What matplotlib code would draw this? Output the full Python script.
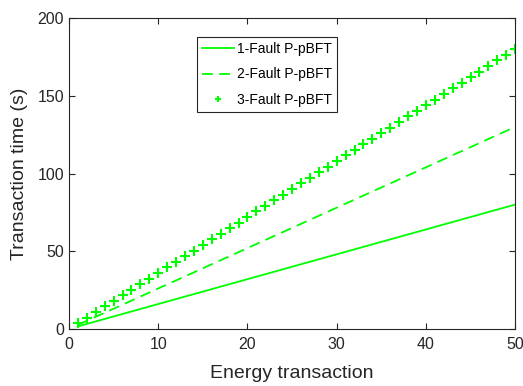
import matplotlib
matplotlib.use("Agg")
import matplotlib.pyplot as plt

plt.rcParams['font.family'] = ['Liberation Sans', 'DejaVu Sans']

x = [1, 2, 3, 4, 5, 6, 7, 8, 9, 10, 11, 12, 13, 14, 15, 16, 17, 18, 19, 20,
     21, 22, 23, 24, 25, 26, 27, 28, 29, 30, 31, 32, 33, 34, 35, 36, 37, 38, 39, 40,
     41, 42, 43, 44, 45, 46, 47, 48, 49, 50]
fault1 = [1.6, 3.2, 4.8, 6.4, 8.0, 9.6, 11.2, 12.8, 14.4, 16.0, 17.6, 19.2, 20.8, 22.4, 24.0,
          25.6, 27.2, 28.8, 30.4, 32.0, 33.6, 35.2, 36.8, 38.4, 40.0, 41.6, 43.2, 44.8, 46.4, 48.0,
          49.6, 51.2, 52.8, 54.4, 56.0, 57.6, 59.2, 60.8, 62.4, 64.0, 65.6, 67.2, 68.8, 70.4, 72.0,
          73.6, 75.2, 76.8, 78.4, 80.0]
fault2 = [2.6, 5.2, 7.8, 10.4, 13.0, 15.6, 18.2, 20.8, 23.4, 26.0, 28.6, 31.2, 33.8, 36.4, 39.0,
          41.6, 44.2, 46.8, 49.4, 52.0, 54.6, 57.2, 59.8, 62.4, 65.0, 67.6, 70.2, 72.8, 75.4, 78.0,
          80.6, 83.2, 85.8, 88.4, 91.0, 93.6, 96.2, 98.8, 101.4, 104.0, 106.6, 109.2, 111.8, 114.4, 117.0,
          119.6, 122.2, 124.8, 127.4, 130.0]
fault3 = [3.6, 7.2, 10.8, 14.4, 18.0, 21.6, 25.2, 28.8, 32.4, 36.0, 39.6, 43.2, 46.8, 50.4, 54.0,
          57.6, 61.2, 64.8, 68.4, 72.0, 75.6, 79.2, 82.8, 86.4, 90.0, 93.6, 97.2, 100.8, 104.4, 108.0,
          111.6, 115.2, 118.8, 122.4, 126.0, 129.6, 133.2, 136.8, 140.4, 144.0, 147.6, 151.2, 154.8, 158.4, 162.0,
          165.6, 169.2, 172.8, 176.4, 180.0]
labels = ['1-Fault P-pBFT', '2-Fault P-pBFT', '3-Fault P-pBFT']

green = (0, 1, 0)

fig = plt.figure(figsize=(5.23, 3.86), dpi=100)
ax = fig.add_axes([0.132, 0.148, 0.853, 0.805])

ax.plot(x, fault1, '-', color=green, lw=1.3, label=labels[0])
ax.plot(x, fault2, '--', color=green, lw=1.3, dashes=(6, 3.5), label=labels[1])
ax.plot(x, fault3, '+', color=green, ms=6.5, mew=1.5, linestyle='none', label=labels[2])

ax.set_xlim(0, 50)
ax.set_ylim(0, 200)
ax.set_xticks([0, 10, 20, 30, 40, 50])
ax.set_yticks([0, 50, 100, 150, 200])
ax.tick_params(direction='in', top=True, right=True, labelsize=11.5, length=4, colors='#262626')
ax.tick_params(axis='x', pad=6)
for s in ax.spines.values():
    s.set_color('#262626')
    s.set_linewidth(0.8)
ax.set_xlabel('Energy transaction', fontsize=14, color='#262626', labelpad=9)
ax.set_ylabel('Transaction time (s)', fontsize=14, color='#262626', labelpad=7)

leg = ax.legend(loc='upper left', bbox_to_anchor=(0.287, 0.94), fontsize=10,
                frameon=True, fancybox=False, edgecolor='#262626', framealpha=1,
                handlelength=2.3, borderpad=0.35, labelspacing=0.85, handletextpad=0.25,
                borderaxespad=0, markerscale=0.7)
leg.get_frame().set_linewidth(0.8)

fig.savefig('out.png', dpi=100)
